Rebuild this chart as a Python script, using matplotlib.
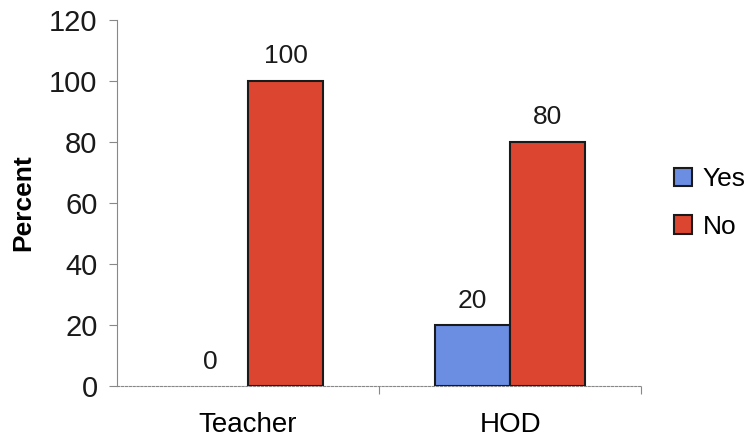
import numpy as np
from matplotlib import pyplot as plt
from matplotlib.patches import Patch

plt.rcParams['font.family'] = ['Liberation Sans', 'DejaVu Sans']

groups = ['Teacher', 'HOD']
series = ['Yes', 'No']
yes_pct = [0, 20]
no_pct = [100, 80]
colors = ['#6b8ee3', '#dc4630']

fig = plt.figure(figsize=(7.5, 4.41), dpi=100)
ax = fig.add_axes([0.156, 0.1247, 0.699, 0.83])

x = np.arange(len(groups))
w = 0.287
bars_yes = ax.bar(x - w / 2, yes_pct, w, color=colors[0], edgecolor='#1a1a1a',
                  linewidth=1.5, zorder=3)
bars_no = ax.bar(x + w / 2, no_pct, w, color=colors[1], edgecolor='#1a1a1a',
                 linewidth=1.5, zorder=3)

for bars, vals in ((bars_yes, yes_pct), (bars_no, no_pct)):
    for b, v in zip(bars, vals):
        if v == 0:
            b.set_visible(False)   # an empty bar shows only its label
        ax.annotate(f'{v}', (b.get_x() + b.get_width() / 2, v),
                    xytext=(0, 9), textcoords='offset points',
                    ha='center', va='bottom', fontsize=19, color='#1a1a1a')

ax.set_xlim(-0.5, 1.5)
ax.set_ylim(0, 120)
ax.set_yticks(np.arange(0, 121, 20))
ax.set_ylabel('Percent', fontsize=19, fontweight='bold', labelpad=10)

# category ticks sit on the boundaries, labels centred under the groups
ax.set_xticks([0.5, 1.5])
ax.set_xticklabels([])
ax.set_xticks(x, minor=True)
ax.set_xticklabels(groups, minor=True, fontsize=20)
ax.tick_params(axis='x', which='minor', length=0, pad=19)
ax.tick_params(axis='x', which='major', length=6, color='#888888')
ax.tick_params(axis='y', length=6, color='#888888', labelsize=21, pad=8,
               labelcolor='#1a1a1a')

for s in ('top', 'right'):
    ax.spines[s].set_visible(False)
ax.spines['left'].set_color('#888888')
ax.spines['bottom'].set_color('#888888')
ax.spines['bottom'].set_linestyle((0, (2, 1.5)))

handles = [Patch(facecolor=c, edgecolor='#1a1a1a', linewidth=1.5, label=s)
           for c, s in zip(colors, series)]
ax.legend(handles=handles, loc='center left', bbox_to_anchor=(0.898, 0.54),
          bbox_transform=fig.transFigure, frameon=False, fontsize=19,
          handlelength=0.7, handleheight=0.7, handletextpad=0.4,
          labelspacing=0.9, borderaxespad=0, borderpad=0)

fig.savefig('out.png', dpi=100)
